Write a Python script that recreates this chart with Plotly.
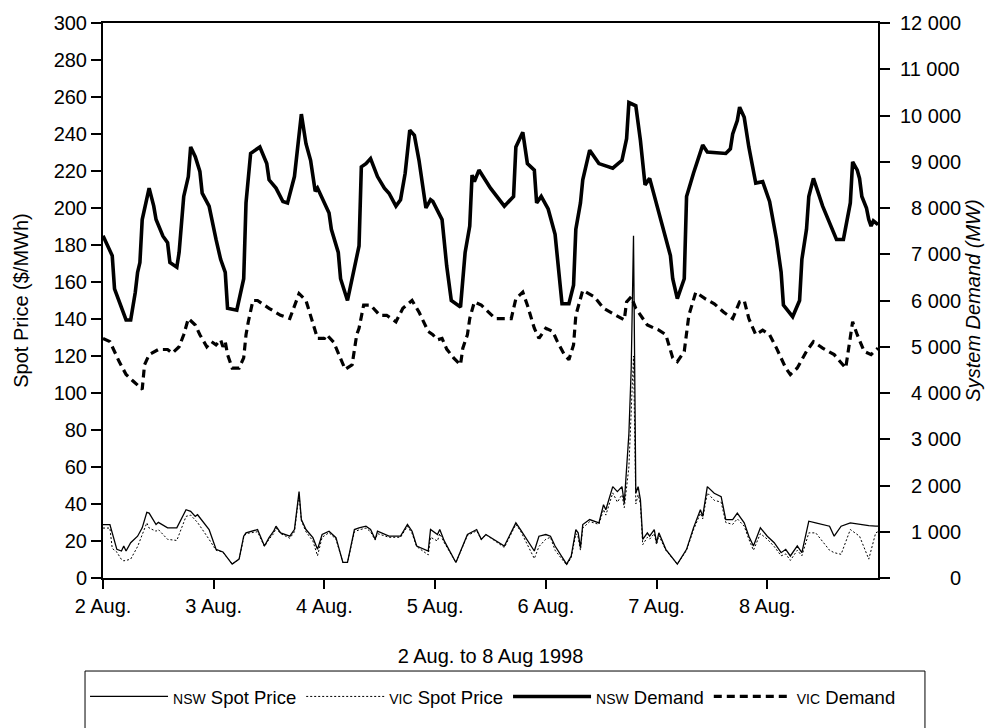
import plotly.graph_objects as go

# ---------------- data ----------------
day_ticks = [0, 24, 48, 72, 96, 120, 144]
day_labels = ["2 Aug.", "3 Aug.", "4 Aug.", "5 Aug.", "6 Aug.", "7 Aug.", "8 Aug."]
price_ticks = list(range(0, 301, 20))
demand_ticks = list(range(0, 12001, 1000))
demand_tick_labels = ["\u2007\u2007\u2007\u2007\u00a00", "\u20071 000", "\u20072 000", "\u20073 000",
                      "\u20074 000", "\u20075 000", "\u20076 000", "\u20077 000", "\u20078 000",
                      "\u20079 000", "10 000", "11 000", "12 000"]

# hours from 2 Aug 00:00
nsw_demand_hours = [0, 2, 2.5, 5, 6, 7, 7.5, 8, 8.5, 9, 10, 11, 11.5, 13, 14, 14.5, 16, 16.5, 17.5, 18.5, 19, 20, 21, 21.5, 23,
                    24.5, 25.5, 26.5, 27, 29, 30.5, 31, 31.5, 32, 34, 35.5, 36, 37.5, 39, 40, 41.5, 43, 44, 45, 46, 46.5,
                    49, 49.5, 51, 51.5, 53, 54.5, 55.5, 56, 57, 58, 59.5, 61, 62, 63.5, 64.5, 65.5, 66.5, 67.5, 68.5, 70, 71, 71.5,
                    73.5, 74.5, 75.5, 77.5, 78.5, 79.5, 80, 80.5, 81.5, 84, 85.5, 87, 89, 89.5, 91, 92, 93.5, 94, 95,
                    96.5, 98, 99.5, 101, 102, 102.5, 103.5, 104, 105.5, 107.5, 110.5, 112.5, 113.5, 114, 115.5, 116.5, 117.5, 118.5,
                    120.5, 123, 123.5, 124.5, 126, 126.5, 128, 130, 131, 135, 136, 136.5, 137.5, 138, 139, 140, 141.5, 143,
                    144.5, 146, 147, 147.5, 149.5, 151, 151.5, 152.5, 153, 154, 156, 159, 160.5, 162, 162.5, 163.5, 164, 164.5,
                    165.5, 166, 166.5, 167, 168]
nsw_demand_mw = [7400, 6970, 6250, 5580, 5580, 6180, 6610, 6820, 7750, 7960, 8430, 8040, 7750, 7390, 7250, 6820, 6720, 7040, 8250, 8680, 9320, 9110, 8790, 8320, 8040,
                 7320, 6890, 6610, 5830, 5790, 6470, 8110, 8680, 9180, 9320, 8960, 8610, 8430, 8140, 8110, 8680, 10030, 9390, 9030, 8360, 8430,
                 7890, 7540, 7040, 6470, 6000, 6750, 7180, 8890, 8960, 9070, 8680, 8430, 8320, 8040, 8180, 8750, 9680, 9570, 9030, 8000, 8180, 8140,
                 7750, 6750, 6000, 5860, 7040, 7610, 8710, 8570, 8820, 8430, 8250, 8040, 8250, 9320, 9640, 8960, 8820, 8110, 8250,
                 7980, 7430, 5930, 5930, 6330, 7540, 8110, 8610, 9250, 8960, 8860, 9030, 9500, 10280, 10210, 9460, 8500, 8640,
                 7890, 6970, 6470, 6040, 6470, 8250, 8750, 9360, 9210, 9180, 9280, 9600, 9890, 10180, 9960, 9320, 8540, 8570,
                 8140, 7320, 6610, 5900, 5650, 6000, 6890, 7540, 8250, 8640, 8040, 7320, 7320, 8110, 9000, 8820, 8640, 8250,
                 8000, 7750, 7610, 7720, 7640]

vic_demand_hours = [0, 1.5, 3.5, 5, 6.5, 8.5, 9, 10, 12, 14, 15, 16.5, 17.5, 18.5, 20, 21, 22.5, 23.5,
                    24.5, 25.5, 26, 26.5, 27, 28, 29.5, 30.5, 31, 31.5, 32.5, 33.5, 36, 38.5, 40.5, 41.5, 42.5, 44, 45.5, 46.5,
                    48, 48.5, 50, 51.5, 52.5, 54, 54.5, 55, 55.5, 56.5, 58, 60, 61.5, 63.5, 65, 67, 68.5, 70.5, 71.5,
                    72.5, 73.5, 74.5, 76, 77.5, 78, 79, 79.5, 80.5, 82, 85, 87, 88.5, 89.5, 91, 92, 93.5, 94.5,
                    96, 97.5, 98.5, 100, 101, 102, 102.5, 104, 106.5, 108.5, 113, 113.5, 114.5, 115.5, 118, 119.5,
                    120.5, 122, 123.5, 124.5, 126, 127, 128.5, 130.5, 132.5, 134.5, 136.5, 138, 139, 140, 141.5, 143,
                    144.5, 146, 148, 149, 150.5, 152.5, 154, 156, 158.5, 161, 162.5, 163.5, 165, 166.5, 168]
vic_demand_mw = [5180, 5110, 4680, 4400, 4260, 4080, 4610, 4830, 4940, 4940, 4860, 5000, 5260, 5610, 5470, 5260, 5000, 5110,
                 5040, 5150, 5000, 5110, 4830, 4540, 4540, 4760, 5260, 5540, 6000, 6000, 5830, 5680, 5610, 5900, 6150, 6000, 5470, 5180,
                 5180, 5260, 5100, 4760, 4510, 4610, 4900, 5260, 5400, 5900, 5900, 5680, 5680, 5540, 5830, 6000, 5750, 5330, 5260,
                 5150, 5180, 4950, 4760, 4610, 4970, 5260, 5610, 5970, 5900, 5610, 5610, 5610, 6040, 6180, 5900, 5400, 5180,
                 5400, 5330, 5110, 4830, 4720, 5040, 5680, 6220, 6080, 5830, 5580, 5970, 6080, 5830, 5470, 5400,
                 5360, 5260, 4760, 4680, 4900, 5680, 6180, 6040, 5930, 5750, 5610, 5970, 6000, 5610, 5260, 5360,
                 5260, 4970, 4540, 4400, 4540, 4900, 5110, 4970, 4830, 4540, 5540, 5260, 4900, 4830, 4970]

price_hours = [0, 1.5, 2, 3, 4, 4.5, 5, 6, 7.5, 8.5, 9.5, 10, 11.5, 12, 14, 16, 18, 19, 20, 20.5, 23,
               24.5, 26, 28, 29.5, 30.5, 31, 33.5, 35, 36, 37, 37.5, 38.5, 40.5, 41.5, 42.5, 43, 44, 45.5, 46.5, 47.5,
               49, 50.5, 52, 53, 54.5, 55.5, 57, 58, 59, 59.5, 62, 64.5, 66, 67, 68, 70.5, 71,
               72.5, 73, 74, 76.5, 79, 81, 82, 83, 87, 89.5, 90.5, 93.5, 94.5,
               96, 97, 98, 100.5, 101.5, 102.5, 103, 103.5, 104, 105.5, 107.5, 108.5, 109, 110.5, 111.5,
               112.5, 113, 114, 114.5, 115, 115.5, 116, 116.5, 117, 118, 118.5, 119.5,
               120, 120.5, 122, 124.5, 126.5, 128, 129.5, 130, 131, 132.5, 134, 135, 136.5, 137.5, 139, 140, 141, 142.5,
               144, 145.5, 147, 148, 149, 150.5, 151.5, 153, 154.5, 157.5, 158.5, 160, 162, 164, 166, 167.5, 168]
nsw_price = [28.9, 28.9, 24.4, 15.5, 14.6, 17.3, 14.6, 19.1, 22.6, 27.1, 35.5, 35.1, 28.9, 30.1, 27.1, 27.1, 36.9, 36.0, 33.3, 34.2, 26.2,
             15.5, 14.1, 7.5, 10.2, 22.6, 24.4, 26.2, 17.3, 21.8, 25.3, 28.0, 24.4, 22.6, 26.2, 46.7, 31.6, 26.2, 21.8, 15.5, 23.5,
             25.3, 21.8, 8.4, 8.4, 26.2, 27.1, 28.0, 26.2, 20.9, 25.3, 22.6, 22.6, 28.9, 25.3, 17.3, 14.6, 26.2,
             23.5, 26.2, 19.9, 8.4, 23.5, 26.2, 20.9, 23.5, 17.3, 29.8, 26.2, 14.6, 22.6,
             23.5, 22.6, 17.3, 7.5, 11.9, 26.2, 24.4, 16.4, 28.9, 31.6, 29.8, 39.6, 36.9, 49.4, 46.7,
             49.4, 40.5, 78, 113, 185, 45.8, 49.4, 42.2, 20.9, 24.4, 22.6, 26.2,
             19.1, 24.4, 15.5, 7.5, 15.5, 27.1, 36.9, 33.3, 49.4, 45.8, 44.0, 31.6, 31.6, 35.1, 29.8, 22.6, 17.3, 27.1,
             22.6, 19.1, 13.7, 15.5, 11.9, 17.3, 13.7, 30.7, 29.8, 28.0, 22.6, 28.0, 29.8, 28.9, 28.3, 28.0, 28.0]
vic_price = [27, 27, 16, 14, 10, 9.3, 9.5, 10.2, 17, 23, 29.8, 27, 25.3, 26.2, 20.9, 20.3, 33.3, 34, 31, 30, 20.9,
             15, 14, 7.5, 10, 22, 24, 25, 17, 21, 24, 27, 24, 21.5, 25, 45, 31, 25, 20, 12, 22,
             24.5, 21, 8.4, 8.4, 25, 26, 27, 25, 20.5, 24, 22, 22, 28, 24, 17, 12.5, 22,
             20, 24, 19, 8.4, 23, 25.5, 20.9, 23.5, 16.5, 29, 25.5, 10.5, 17,
             21, 22, 15, 7, 11, 24, 22, 15, 27, 30.5, 29, 37, 34, 46, 41,
             45, 38, 60, 90, 120, 40, 45, 40, 18, 22, 21, 24,
             18, 23, 15, 7.5, 15, 26, 35, 32, 46, 42, 41, 30, 29, 32, 28, 21, 15, 24,
             21, 17, 12, 13, 9.5, 15, 12, 24.4, 24.4, 15, 13.7, 12.8, 26.2, 22.6, 10.2, 24.4, 25]

series_names = ["<span style='font-size:14px'>NSW</span> Spot Price",
                "<span style='font-size:14px'>VIC</span> Spot Price",
                "<span style='font-size:14px'>NSW</span> Demand",
                "<span style='font-size:14px'>VIC</span> Demand"]

# ---------------- figure ----------------
FONT = "Liberation Sans, Arial, Helvetica, sans-serif"
fig = go.Figure()
fig.add_trace(go.Scatter(x=price_hours, y=nsw_price, name=series_names[0], mode="lines",
                         line=dict(color="black", width=1.3), yaxis="y"))
fig.add_trace(go.Scatter(x=price_hours, y=vic_price, name=series_names[1], mode="lines",
                         line=dict(color="black", width=1, dash="2px,2px"), yaxis="y"))
fig.add_trace(go.Scatter(x=nsw_demand_hours, y=nsw_demand_mw, name=series_names[2], mode="lines",
                         line=dict(color="black", width=3.6), yaxis="y2"))
fig.add_trace(go.Scatter(x=vic_demand_hours, y=vic_demand_mw, name=series_names[3], mode="lines",
                         line=dict(color="black", width=3.2, dash="8px,5px"), yaxis="y2"))

fig.update_layout(
    width=997, height=728,
    margin=dict(l=103, r=119, t=18, b=149),
    paper_bgcolor="white", plot_bgcolor="white",
    font=dict(family=FONT, size=20, color="black"),
    showlegend=True,
    hovermode=False,
    xaxis=dict(range=[0, 168], tickvals=day_ticks, ticktext=day_labels,
               ticks="outside", ticklen=9, tickwidth=1.5, tickcolor="black",
               showline=True, linecolor="black", linewidth=2, mirror=True,
               showgrid=False, zeroline=False,
               title=dict(text="2 Aug. to 8 Aug 1998", standoff=33, font=dict(size=20))),
    yaxis=dict(range=[0, 300], tickvals=price_ticks, ticks="outside", ticklen=10, tickwidth=1.5,
               tickcolor="black", showline=True, linecolor="black", linewidth=2,
               showgrid=False, zeroline=False,
               title=dict(text="Spot Price ($/MWh)", standoff=20, font=dict(size=20))),
    yaxis2=dict(range=[0, 12000], tickvals=demand_ticks, ticktext=demand_tick_labels,
                overlaying="y", side="right", ticks="outside", ticklen=10, tickwidth=1.5,
                tickcolor="black", showline=True, linecolor="black", linewidth=2,
                showgrid=False, zeroline=False, ticklabelstandoff=6,
                title=dict(text="<i>System Demand (MW)</i>", standoff=6, font=dict(size=20))),
    legend=dict(orientation="h", x=-0.0232, y=-0.180, xanchor="left", yanchor="top",
                bgcolor="rgba(0,0,0,0)", borderwidth=0, itemwidth=78,
                font=dict(family=FONT, size=18.5, color="black"), traceorder="normal"),
    shapes=[dict(type="rect", xref="paper", yref="paper", x0=-0.0232, x1=1.0606,
                 y0=-0.1676, y1=-0.33, line=dict(color="black", width=1), fillcolor="rgba(0,0,0,0)")],
)

fig.write_html("out.html")
